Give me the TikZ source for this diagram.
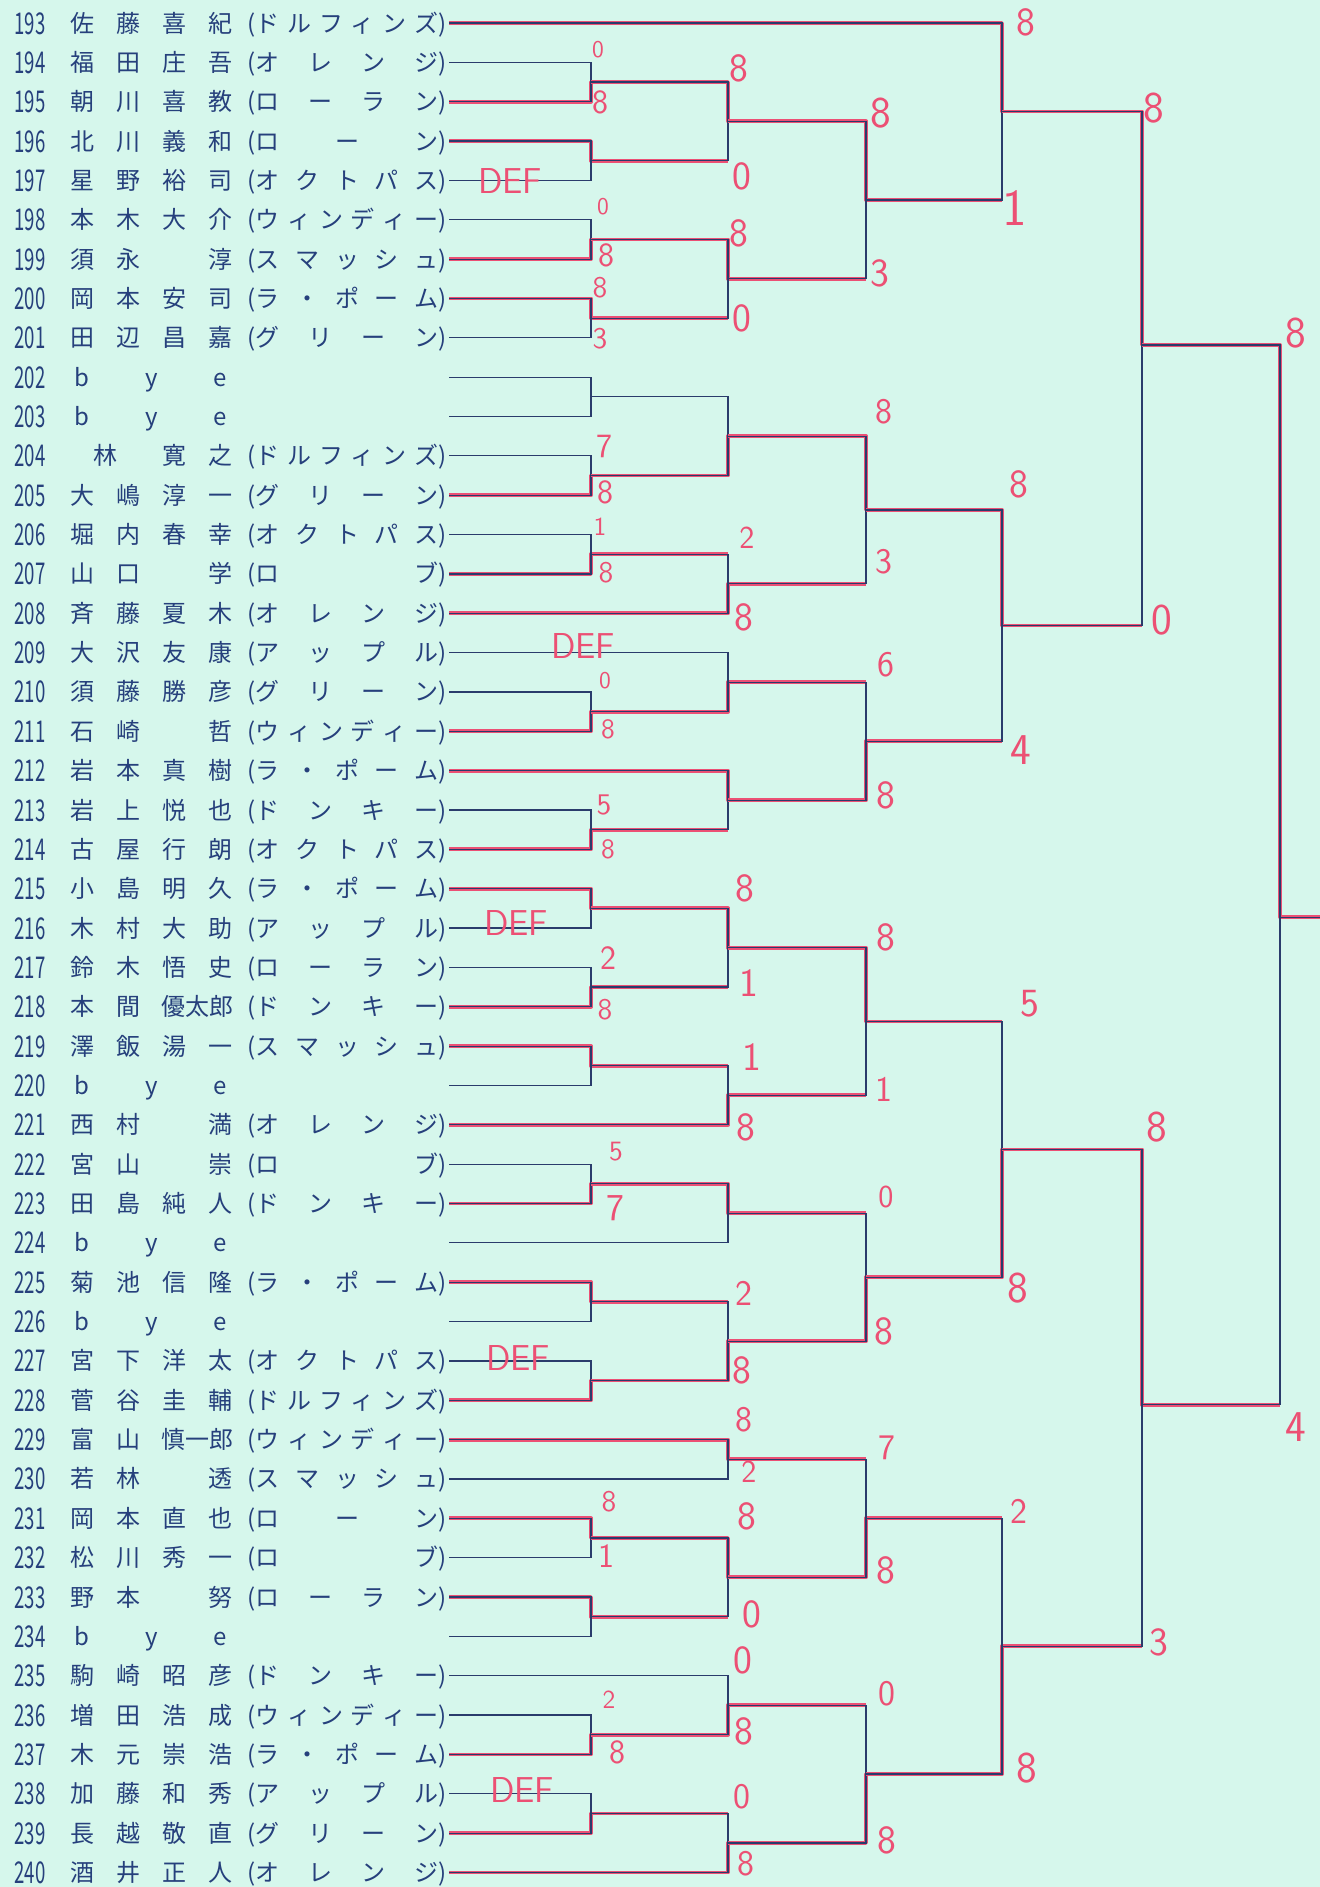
\documentclass[tikz,border=0pt]{standalone}
\usepackage{fontspec}
\setmainfont{Noto Sans CJK JP}
\usetikzlibrary{calc}
\definecolor{bgmint}{RGB}{214,247,236}
\definecolor{inkblue}{RGB}{38,64,124}
\definecolor{lineblue}{RGB}{42,60,108}
\definecolor{penred}{RGB}{236,80,116}

% name slots and team spreading
\newcommand{\ka}[1]{\makebox[23pt]{#1}}
\newcommand{\kb}[1]{\makebox[46pt]{#1}}
\def\spreadA#1{\ifx#1\relax\else#1\expandafter\spreadB\fi}
\def\spreadB#1{\ifx#1\relax\else\hfill#1\expandafter\spreadB\fi}
\newcommand{\team}[1]{(\makebox[91.5pt][s]{\expandafter\spreadA#1\relax})}
\newcommand{\pnum}[1]{\scalebox{0.62}[1]{\fontsize{15}{15}\selectfont #1}}

% one bracket: [out fraction] top, bottom, column, out name, winner (t/b/n), next column
\newcommand{\bout}[7][0.5]{%
  \coordinate (#5) at ($(#2 -| #4)!#1!(#3 -| #4)$);
  \ifx t#6 \draw[rline] (#2) -- (#2 -| #4) -- (#5) -- (#5 -| #7);\fi
  \ifx b#6 \draw[rline] (#3) -- (#3 -| #4) -- (#5) -- (#5 -| #7);\fi
  \draw[bline] (#2) -- (#2 -| #4) -- (#3 -| #4) -- (#3);
}

\tikzset{
  entry/.style={anchor=base west, inner sep=0pt, text=inkblue, font=\fontsize{12}{12}\selectfont},
  num/.style={anchor=base west, inner sep=0pt, text=inkblue},
  bline/.style={draw=lineblue, line width=0.6pt},
  rline/.style={draw=penred, line width=1.9pt, yshift=0.8pt, xshift=-0.7pt, line join=round},
  score/.style={inner sep=0pt, text=penred},
  defmark/.style={inner sep=0pt, text=penred, font=\sffamily\fontsize{18}{18}\selectfont}
}

\begin{document}
\begin{tikzpicture}[x=0.5pt, y=-0.5pt]
  \useasboundingbox (0,0) rectangle (1320,1887);
  \fill[bgmint] (0,0) rectangle (1320,1887);

  % bracket columns
  \coordinate (x1) at (591,0);
  \coordinate (x2) at (728,0);
  \coordinate (x3) at (866,0);
  \coordinate (x4) at (1002,0);
  \coordinate (x5) at (1142,0);
  \coordinate (x6) at (1280,0);
  \coordinate (xe) at (1320,0);

  % players
  \foreach \n/\nm/\tm in {
    193/{\ka{佐}\ka{藤}\ka{喜}\ka{紀}}/ドルフィンズ,
    194/{\ka{福}\ka{田}\ka{庄}\ka{吾}}/オレンジ,
    195/{\ka{朝}\ka{川}\ka{喜}\ka{教}}/ローラン,
    196/{\ka{北}\ka{川}\ka{義}\ka{和}}/ローン,
    197/{\ka{星}\ka{野}\ka{裕}\ka{司}}/オクトパス,
    198/{\ka{本}\ka{木}\ka{大}\ka{介}}/ウィンディー,
    199/{\ka{須}\ka{永}\ka{}\ka{淳}}/スマッシュ,
    200/{\ka{岡}\ka{本}\ka{安}\ka{司}}/ラ・ポーム,
    201/{\ka{田}\ka{辺}\ka{昌}\ka{嘉}}/グリーン,
    204/{\kb{林}\ka{寛}\ka{之}}/ドルフィンズ,
    205/{\ka{大}\ka{嶋}\ka{淳}\ka{一}}/グリーン,
    206/{\ka{堀}\ka{内}\ka{春}\ka{幸}}/オクトパス,
    207/{\ka{山}\ka{口}\ka{}\ka{学}}/ロブ,
    208/{\ka{斉}\ka{藤}\ka{夏}\ka{木}}/オレンジ,
    209/{\ka{大}\ka{沢}\ka{友}\ka{康}}/アップル,
    210/{\ka{須}\ka{藤}\ka{勝}\ka{彦}}/グリーン,
    211/{\ka{石}\ka{崎}\ka{}\ka{哲}}/ウィンディー,
    212/{\ka{岩}\ka{本}\ka{真}\ka{樹}}/ラ・ポーム,
    213/{\ka{岩}\ka{上}\ka{悦}\ka{也}}/ドンキー,
    214/{\ka{古}\ka{屋}\ka{行}\ka{朗}}/オクトパス,
    215/{\ka{小}\ka{島}\ka{明}\ka{久}}/ラ・ポーム,
    216/{\ka{木}\ka{村}\ka{大}\ka{助}}/アップル,
    217/{\ka{鈴}\ka{木}\ka{悟}\ka{史}}/ローラン,
    218/{\ka{本}\ka{間}\kb{優太郎}}/ドンキー,
    219/{\ka{澤}\ka{飯}\ka{湯}\ka{一}}/スマッシュ,
    221/{\ka{西}\ka{村}\ka{}\ka{満}}/オレンジ,
    222/{\ka{宮}\ka{山}\ka{}\ka{崇}}/ロブ,
    223/{\ka{田}\ka{島}\ka{純}\ka{人}}/ドンキー,
    225/{\ka{菊}\ka{池}\ka{信}\ka{隆}}/ラ・ポーム,
    227/{\ka{宮}\ka{下}\ka{洋}\ka{太}}/オクトパス,
    228/{\ka{菅}\ka{谷}\ka{圭}\ka{輔}}/ドルフィンズ,
    229/{\ka{富}\ka{山}\kb{慎一郎}}/ウィンディー,
    230/{\ka{若}\ka{林}\ka{}\ka{透}}/スマッシュ,
    231/{\ka{岡}\ka{本}\ka{直}\ka{也}}/ローン,
    232/{\ka{松}\ka{川}\ka{秀}\ka{一}}/ロブ,
    233/{\ka{野}\ka{本}\ka{}\ka{努}}/ローラン,
    235/{\ka{駒}\ka{崎}\ka{昭}\ka{彦}}/ドンキー,
    236/{\ka{増}\ka{田}\ka{浩}\ka{成}}/ウィンディー,
    237/{\ka{木}\ka{元}\ka{崇}\ka{浩}}/ラ・ポーム,
    238/{\ka{加}\ka{藤}\ka{和}\ka{秀}}/アップル,
    239/{\ka{長}\ka{越}\ka{敬}\ka{直}}/グリーン,
    240/{\ka{酒}\ka{井}\ka{正}\ka{人}}/オレンジ}{
    \pgfmathsetmacro\y{23+39.35*(\n-193)}
    \node[num] (n\n) at (14,\y+11) {\pnum{\n}};
    \node[entry] (m\n) at (59,\y+9) {\nm};
    \node[entry] (t\n) at (247,\y+9) {\team{\tm}};
    \coordinate (p\n) at (449,\y);
  }
  % byes
  \foreach \n in {202,203,220,224,226,234}{
    \pgfmathsetmacro\y{23+39.35*(\n-193)}
    \node[num] (n\n) at (14,\y+11) {\pnum{\n}};
    \node[entry] (m\n) at (59,\y+9) {\ka{b}\kb{y}\ka{e}};
    \coordinate (p\n) at (449,\y);
  }

  % first quarter
  \bout{p194}{p195}{x1}{a1}{b}{x2}
  \bout{p196}{p197}{x1}{a2}{t}{x2}
  \bout{p198}{p199}{x1}{a3}{b}{x2}
  \bout{p200}{p201}{x1}{a4}{t}{x2}
  \bout{a1}{a2}{x2}{b1}{t}{x3}
  \bout{a3}{a4}{x2}{b2}{t}{x3}
  \bout{b1}{b2}{x3}{c1}{t}{x4}
  \bout{p193}{c1}{x4}{d1}{t}{x5}
  % second quarter
  \bout{p202}{p203}{x1}{a5}{n}{x2}
  \bout{p204}{p205}{x1}{a6}{b}{x2}
  \bout{a5}{a6}{x2}{b3}{b}{x3}
  \bout{p206}{p207}{x1}{a7}{b}{x2}
  \bout{a7}{p208}{x2}{b4}{b}{x3}
  \bout{b3}{b4}{x3}{c2}{t}{x4}
  \bout{p210}{p211}{x1}{a8}{b}{x2}
  \bout{p209}{a8}{x2}{b5}{b}{x3}
  \bout{p213}{p214}{x1}{a9}{b}{x2}
  \bout{p212}{a9}{x2}{b6}{t}{x3}
  \bout{b5}{b6}{x3}{c3}{b}{x4}
  \bout{c2}{c3}{x4}{d2}{t}{x5}
  \bout[0.454]{d1}{d2}{x5}{e1}{t}{x6}
  % third quarter
  \bout{p215}{p216}{x1}{a10}{t}{x2}
  \bout{p217}{p218}{x1}{a11}{b}{x2}
  \bout{a10}{a11}{x2}{b7}{t}{x3}
  \bout{p219}{p220}{x1}{a12}{t}{x2}
  \bout{a12}{p221}{x2}{b8}{b}{x3}
  \bout{b7}{b8}{x3}{c4}{t}{x4}
  \bout{p222}{p223}{x1}{a13}{b}{x2}
  \bout{a13}{p224}{x2}{b9}{t}{x3}
  \bout{p225}{p226}{x1}{a14}{t}{x2}
  \bout{p227}{p228}{x1}{a15}{b}{x2}
  \bout{a14}{a15}{x2}{b10}{b}{x3}
  \bout{b9}{b10}{x3}{c5}{b}{x4}
  \bout{c4}{c5}{x4}{d3}{b}{x5}
  % fourth quarter
  \bout{p229}{p230}{x2}{b11}{t}{x3}
  \bout{p231}{p232}{x1}{a16}{t}{x2}
  \bout{p233}{p234}{x1}{a17}{t}{x2}
  \bout{a16}{a17}{x2}{b12}{t}{x3}
  \bout{b11}{b12}{x3}{c6}{b}{x4}
  \bout{p236}{p237}{x1}{a18}{b}{x2}
  \bout{p235}{a18}{x2}{b13}{b}{x3}
  \bout{p238}{p239}{x1}{a19}{b}{x2}
  \bout{a19}{p240}{x2}{b14}{b}{x3}
  \bout{b13}{b14}{x3}{c7}{b}{x4}
  \bout{c6}{c7}{x4}{d4}{b}{x5}
  \bout[0.514]{d3}{d4}{x5}{e2}{t}{x6}
  % final
  \bout[0.54]{e1}{e2}{x6}{fin}{t}{xe}
  \draw[bline] (fin) -- (fin -| xe);

  % scores
  \foreach \sx/\sy/\sv/\sz [count=\k] in {
    598/50/0/12, 600/102/8/17, 603/207/0/12, 606/255/8/17, 600/288/8/15, 600/339/3/15,
    604/446/7/17, 605/492/8/17, 600/527/1/13, 606/573/8/15, 605/681/0/12, 608/729/8/14,
    604/805/5/15, 608/849/8/14, 608/958/2/17, 605/1010/8/15, 616/1152/5/14, 615/1208/7/19,
    609/1502/8/15, 606/1556/1/17, 609/1700/2/13, 617/1752/8/17,
    739/68/8/20, 742/176/0/20, 739/233/8/20, 742/318/0/20, 747/538/2/16, 744/617/8/20,
    745/888/8/20, 749/983/1/20, 752/1057/1/20, 746/1127/8/20, 744/1293/2/18, 742/1370/8/20,
    744/1420/8/18, 749/1472/2/16, 747/1516/8/20, 752/1614/0/20, 743/1660/0/20, 744/1731/8/20,
    742/1797/0/18, 746/1864/8/18,
    881/113/8/22, 880/273/3/20, 884/412/8/18, 884/562/3/18, 886/665/6/18, 886/795/8/20,
    886/937/8/20, 884/1089/1/18, 886/1197/0/16, 884/1331/8/20, 887/1448/7/18, 886/1570/8/20,
    887/1694/0/18, 887/1840/8/20,
    1026/22/8/20, 1015/208/1/26, 1019/484/8/20, 1021/750/4/22, 1030/1004/5/20, 1018/1288/8/22,
    1019/1511/2/18, 1027/1768/8/22,
    1154/108/8/22, 1162/620/0/22, 1157/1127/8/22, 1159/1642/3/20,
    1296/333/8/22, 1296/1427/4/22}{
    \node[score, font=\sffamily\fontsize{\sz}{\sz}\selectfont] (s\k) at (\sx,\sy) {\sv};
  }
  % defaults
  \node[defmark] (def197) at (510,181) {DEF};
  \node[defmark] (def209) at (583,646) {DEF};
  \node[defmark] (def216) at (516,923) {DEF};
  \node[defmark] (def227) at (518,1358) {DEF};
  \node[defmark] (def238) at (522,1790) {DEF};
\end{tikzpicture}
\end{document}
